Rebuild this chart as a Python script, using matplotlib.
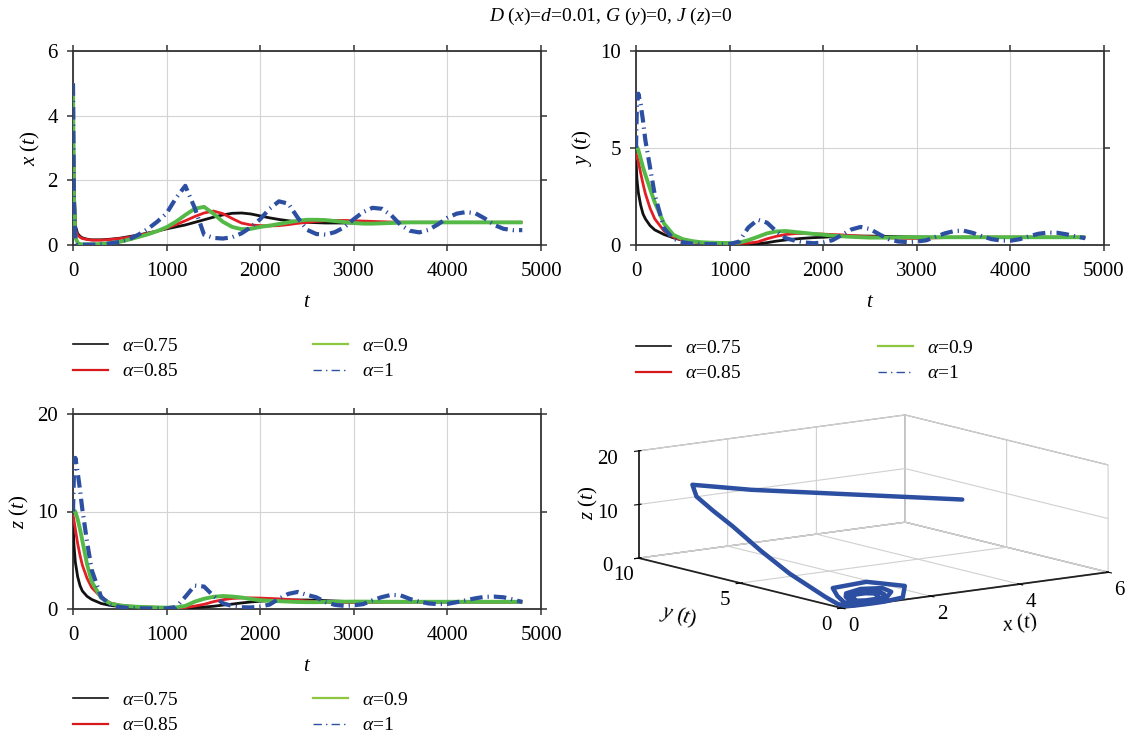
import numpy as np
import matplotlib
matplotlib.use("Agg")
import matplotlib.pyplot as plt
from matplotlib.lines import Line2D

plt.rcParams["font.family"] = ["Liberation Serif", "DejaVu Serif"]
plt.rcParams["mathtext.fontset"] = "custom"
plt.rcParams["mathtext.rm"] = "Liberation Serif"
plt.rcParams["mathtext.it"] = "Liberation Serif:italic"
plt.rcParams["mathtext.bf"] = "Liberation Serif:bold"
plt.rcParams["font.size"] = 14

# ---------------------------------------------------------------- data
t = np.array([0, 10, 25, 50, 75, 100, 150, 200] + list(range(300, 4900, 100)))

labels = [r"$\alpha$=0.75", r"$\alpha$=0.85", r"$\alpha$=0.9", r"$\alpha$=1"]

x_075 = [5, 2.2, 0.6, 0.35, 0.27, 0.22, 0.18, 0.16,
         0.16, 0.18, 0.21, 0.26, 0.31, 0.37, 0.43, 0.5,
         0.56, 0.62, 0.7, 0.78, 0.86, 0.93, 0.98, 0.99, 0.96, 0.9,
         0.84, 0.79, 0.75, 0.72, 0.7, 0.69, 0.68, 0.68, 0.68, 0.68,
         0.69, 0.69, 0.69, 0.7] + [0.7] * 14
x_085 = [5, 2.0, 0.5, 0.3, 0.24, 0.2, 0.17, 0.15,
         0.15, 0.17, 0.2, 0.24, 0.3, 0.36, 0.43, 0.52,
         0.63, 0.75, 0.88, 0.99, 1.05, 0.97, 0.82, 0.68, 0.62, 0.6,
         0.59, 0.6, 0.63, 0.67, 0.7, 0.73, 0.75, 0.76, 0.76, 0.75,
         0.74, 0.73, 0.72, 0.71] + [0.71] + [0.7] * 13
x_09 = [5, 1.5, 0.25, 0.06, 0.03, 0.02, 0.02, 0.02,
        0.03, 0.06, 0.1, 0.17, 0.25, 0.33, 0.43, 0.55,
        0.72, 0.93, 1.12, 1.18, 0.97, 0.72, 0.56, 0.49, 0.5, 0.56,
        0.6, 0.65, 0.7, 0.75, 0.78, 0.78, 0.77, 0.74, 0.71, 0.68,
        0.66, 0.66, 0.67, 0.68] + [0.69] + [0.7] * 13
x_1 = [5, 1.3, 0.2, 0.04, 0.02, 0.01, 0.01, 0.01,
       0.02, 0.05, 0.1, 0.18, 0.32, 0.5, 0.72, 0.98,
       1.45, 1.83, 1.15, 0.32, 0.22, 0.2, 0.24, 0.36, 0.55, 0.8,
       1.12, 1.35, 1.28, 0.85, 0.47, 0.34, 0.32, 0.4, 0.55, 0.8,
       1.02, 1.15, 1.12, 0.92,
       0.62, 0.44, 0.39, 0.47, 0.64, 0.84, 0.97, 1.02, 0.98, 0.82,
       0.62, 0.5, 0.46, 0.46]

y_075 = [4.4, 3.4, 2.7, 2.05, 1.6, 1.35, 1.0, 0.78,
         0.54, 0.37, 0.24, 0.17, 0.13, 0.11, 0.1, 0.09,
         0.07, 0.05, 0.06, 0.12, 0.2, 0.26, 0.31, 0.35, 0.38, 0.4,
         0.43, 0.45, 0.46, 0.46, 0.46, 0.45, 0.44, 0.43, 0.42, 0.41,
         0.41, 0.4, 0.4, 0.4] + [0.4] * 14
y_085 = [4.74, 4.55, 4.3, 3.7, 3.15, 2.65, 1.9, 1.35,
         0.72, 0.41, 0.24, 0.17, 0.13, 0.11, 0.1, 0.09,
         0.08, 0.1, 0.16, 0.32, 0.45, 0.54, 0.59, 0.6, 0.58, 0.56,
         0.54, 0.52, 0.49, 0.46, 0.43, 0.4, 0.37, 0.35, 0.34, 0.34,
         0.35, 0.37, 0.38, 0.39] + [0.4] * 14
y_09 = [4.95, 5.05, 4.9, 4.45, 4.0, 3.62, 2.9, 2.2,
        1.1, 0.52, 0.3, 0.2, 0.14, 0.12, 0.11, 0.1,
        0.12, 0.25, 0.42, 0.6, 0.7, 0.72, 0.67, 0.62, 0.57, 0.53,
        0.48, 0.45, 0.42, 0.4, 0.38, 0.38, 0.38, 0.39, 0.4, 0.4,
        0.4, 0.4, 0.4, 0.4] + [0.4] * 14
y_1 = [5.0, 7.3, 7.8, 7.25, 6.4, 5.4, 4.0, 2.6,
       0.85, 0.32, 0.14, 0.07, 0.05, 0.04, 0.04, 0.05,
       0.17, 0.9, 1.3, 1.15, 0.7, 0.35, 0.22, 0.13, 0.09, 0.13,
       0.25, 0.52, 0.8, 0.93, 0.82, 0.55, 0.3, 0.18, 0.15, 0.18,
       0.24, 0.42, 0.6, 0.72,
       0.74, 0.62, 0.45, 0.3, 0.23, 0.22, 0.3, 0.45, 0.58, 0.64,
       0.63, 0.55, 0.44, 0.35]

z_075 = [8.8, 6.6, 4.8, 3.3, 2.4, 1.85, 1.3, 0.98,
         0.57, 0.36, 0.26, 0.2, 0.17, 0.15, 0.14, 0.13,
         0.12, 0.12, 0.15, 0.2, 0.28, 0.4, 0.5, 0.62, 0.72, 0.8,
         0.86, 0.9, 0.92, 0.93, 0.92, 0.9, 0.86, 0.82, 0.78, 0.75,
         0.73, 0.72, 0.72, 0.72] + [0.72] * 14
z_085 = [9.66, 9.1, 8.2, 6.7, 5.5, 4.5, 3.15, 2.2,
         1.2, 0.62, 0.4, 0.3, 0.24, 0.2, 0.17, 0.15,
         0.13, 0.15, 0.3, 0.48, 0.75, 0.95, 1.08, 1.13, 1.14, 1.12,
         1.08, 1.04, 0.98, 0.9, 0.82, 0.75, 0.68, 0.65, 0.65, 0.66,
         0.68, 0.7, 0.72, 0.73] + [0.73, 0.73] + [0.72] * 12
z_09 = [10.0, 10.1, 10.0, 9.2, 8.2, 7.0, 4.6, 2.8,
        1.15, 0.55, 0.36, 0.28, 0.22, 0.19, 0.16, 0.14,
        0.16, 0.32, 0.75, 1.05, 1.25, 1.33, 1.28, 1.18, 1.02, 0.9,
        0.84, 0.8, 0.76, 0.72, 0.7, 0.7, 0.72, 0.74, 0.75, 0.76,
        0.76, 0.75, 0.74, 0.74] + [0.74] * 14
z_1 = [10.0, 13.8, 15.5, 14.0, 12.2, 10.2, 6.9, 4.0,
       1.25, 0.42, 0.2, 0.1, 0.07, 0.06, 0.05, 0.06,
       0.2, 1.25, 2.4, 2.3, 1.35, 0.6, 0.3, 0.18, 0.16, 0.25,
       0.45, 1.05, 1.55, 1.75, 1.45, 1.2, 0.7, 0.42, 0.32, 0.38,
       0.5, 0.9, 1.22, 1.45,
       1.4, 1.03, 0.75, 0.57, 0.5, 0.52, 0.7, 0.9, 1.1, 1.25,
       1.27, 1.2, 0.98, 0.72]

x_ticks = [0, 1000, 2000, 3000, 4000, 5000]

# ---------------------------------------------------------------- styles
BLACK = "#111111"
RED = "#e31e24"
GREEN = "#55b947"
BLUE = "#2d4fa2"
styles = [
    dict(color=BLACK, lw=2.0, ls="-", zorder=3),
    dict(color=RED, lw=2.0, ls="-", zorder=4),
    dict(color=GREEN, lw=2.8, ls="-", zorder=5),
    dict(color=BLUE, lw=3.0, dashes=(3.0, 1.2, 0.3, 1.2), zorder=6),
]
legend_handles = [
    Line2D([], [], color=BLACK, lw=1.2),
    Line2D([], [], color="#d7191c", lw=1.6),
    Line2D([], [], color="#8dc63f", lw=1.6),
    Line2D([], [], color=BLUE, lw=1.0, dashes=(6, 3, 1, 3)),
]

W, H = 1135, 741
fig = plt.figure(figsize=(W / 100, H / 100), dpi=100)


def rect(left, top, right, bottom):
    return [left / W, 1 - bottom / H, (right - left) / W, (bottom - top) / H]


def time_panel(r, series, ylim, yticks, ylabel):
    ax = fig.add_axes(r)
    for vals, st in zip(series, styles):
        ax.plot(t, vals, solid_capstyle="butt", **st)
    ax.set_xlim(0, 5000)
    ax.set_ylim(*ylim)
    ax.set_xticks(x_ticks)
    ax.set_yticks(yticks)
    ax.grid(True, color="#d4d4d4", lw=0.8)
    ax.set_axisbelow(True)
    for s in ax.spines.values():
        s.set_color("#333333")
        s.set_linewidth(1.3)
    ax.tick_params(direction="out", length=4, width=1.1, color="#333333",
                   top=True, right=True, labelsize=15)
    ax.tick_params(axis="x", pad=8)
    ax.tick_params(axis="y", pad=7)
    ax.set_xlabel(r"$t$", fontsize=15, labelpad=9)
    ax.set_ylabel(ylabel, fontsize=15, labelpad=4)
    return ax


def legend_block(x_col1, x_col2, top):
    for x0, idx in ((x_col1, [0, 1]), (x_col2, [2, 3])):
        fig.legend([legend_handles[i] for i in idx], [labels[i] for i in idx],
                   loc="upper left", bbox_to_anchor=(x0 / W, 1 - top / H),
                   frameon=False, borderpad=0, borderaxespad=0,
                   handlelength=1.8, handletextpad=0.72, labelspacing=0.42,
                   fontsize=14)


time_panel(rect(73, 51, 541, 245), [x_075, x_085, x_09, x_1],
           (0, 6), [0, 2, 4, 6], r"$x\ (t)$")
time_panel(rect(636, 51, 1104, 245), [y_075, y_085, y_09, y_1],
           (0, 10), [0, 5, 10], r"$y\ (t)$")
time_panel(rect(73, 414, 541, 609), [z_075, z_085, z_09, z_1],
           (0, 20), [0, 10, 20], r"$z\ (t)$")

legend_block(73, 313, 337)
legend_block(636, 878, 339)
legend_block(73, 313, 691)

# ---------------------------------------------------------------- 3-D phase portrait
side = 473.6
cx, cy = 873.5, H - 511.5
frac = 0.095 / 0.185
ax3 = fig.add_axes([(cx - frac * side) / W, (cy - frac * side) / H, side / W, side / H],
                   projection="3d", proj_type="ortho")
ax3.set_facecolor("none")
ax3.plot(x_1, y_1, z_1, color=BLUE, lw=3.2, solid_capstyle="round",
         solid_joinstyle="round")
ax3.set_xlim(0, 6)
ax3.set_ylim(0, 10)
ax3.set_zlim(0, 20)
ax3.set_xticks([0, 2, 4, 6])
ax3.set_yticks([0, 5, 10])
ax3.set_zticks([0, 10, 20])
ax3.set_box_aspect((331, 341, 109))
ax3.view_init(elev=10.5, azim=-126.5)
for axis in (ax3.xaxis, ax3.yaxis, ax3.zaxis):
    axis.pane.fill = False
    axis.pane.set_edgecolor("#444444")
    axis.pane.set_linewidth(0.9)
    axis._axinfo["grid"].update(color="#d0d0d0", linewidth=0.8)
    axis.line.set_color("#222222")
    axis.line.set_linewidth(1.3)
ax3.tick_params(labelsize=15, pad=2)
ax3.tick_params(axis="z", pad=4)
ax3.set_xlabel(r"$x\ (t)$", fontsize=15, labelpad=18)
ax3.set_ylabel(r"$y\ (t)$", fontsize=15, labelpad=20)
ax3.set_zlabel(r"$z\ (t)$", fontsize=15, labelpad=-2)

fig.text(611 / W, 1 - 16 / H, r"$D\ (x)$=$d$=0.01, $G\ (y)$=0, $J\ (z)$=0",
         ha="center", va="center", fontsize=14)

fig.savefig("out.png", dpi=100, facecolor="white")
